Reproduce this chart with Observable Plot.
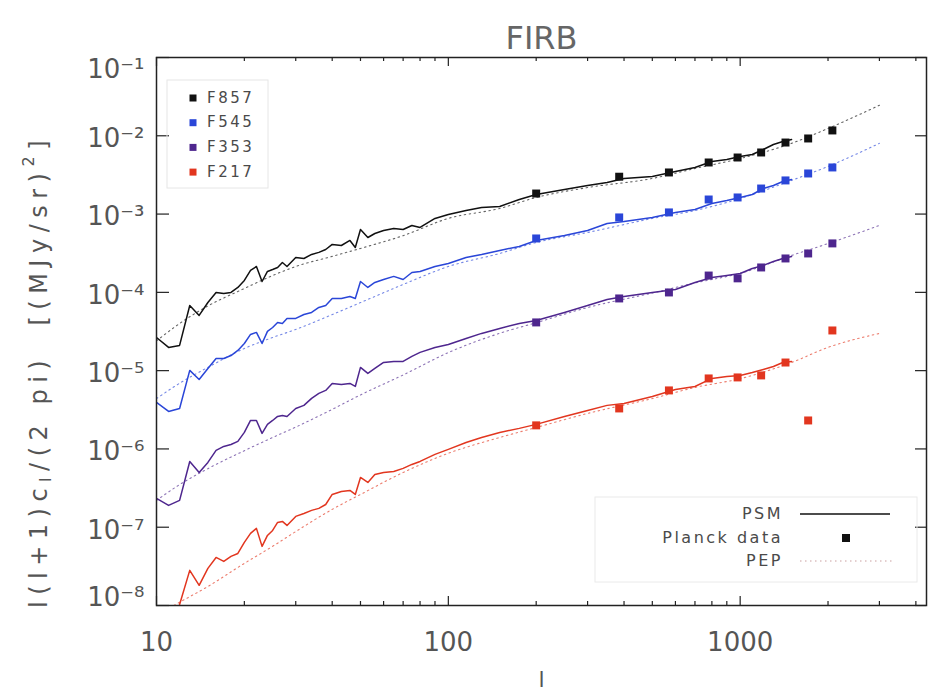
<!DOCTYPE html>
<html><head><meta charset="utf-8">
<script src="https://cdn.jsdelivr.net/npm/d3@7"></script>
<script src="https://cdn.jsdelivr.net/npm/@observablehq/plot@0.6"></script>
<style>
html,body{margin:0;padding:0;background:#fff;}
#chart svg{display:block;}
</style></head><body><div id="chart"></div>
<script>
// ---------- data ----------
const title = "FIRB";
const xLabel = "l";
const yLabelParts = [["l(l+1)c", ""], ["l", "sub"], ["/(2 pi)  [(MJy/sr)", ""], ["2", "sup"], ["]", ""]];
const seriesNames = ["F857", "F545", "F353", "F217"];
const seriesColors = ["#111111", "#2a46d8", "#4e268e", "#e2361f"];
const legend2Labels = ["PSM", "Planck data", "PEP"];

const yTicks = [1e-1, 1e-2, 1e-3, 1e-4, 1e-5, 1e-6, 1e-7, 1e-8];
const xMajor = [10, 100, 1000];
const xMinor = [20, 30, 40, 50, 60, 70, 80, 90, 200, 300, 400, 500, 600, 700, 800, 900, 2000, 3000, 4000];

// PSM simulated spectra
const psmL = [10,11,12,13,14,15,16,17,18,19,20,21,22,23,24,25,26,27,28,30,32,34,36,38,40,43,46,48,50,53,56,60,65,70,75,80,90,100,115,130,150,175,200,250,300,350,400,500,600,700,800,900,1000,1100,1200,1300,1400,1500];
const psmF857 = [2.65e-5,1.98e-5,2.10e-5,6.8e-5,5.07e-5,7.43e-5,9.97e-5,9.68e-5,9.97e-5,1.155e-4,1.42e-4,1.905e-4,2.14e-4,1.377e-4,1.85e-4,1.96e-4,2.08e-4,2.41e-4,2.14e-4,2.79e-4,2.71e-4,3.05e-4,3.24e-4,3.53e-4,4.09e-4,3.97e-4,4.60e-4,3.74e-4,6.36e-4,5.02e-4,5.65e-4,6.18e-4,6.55e-4,6.36e-4,7.15e-4,6.75e-4,8.79e-4,9.89e-4,1.11e-3,1.215e-3,1.25e-3,1.535e-3,1.78e-3,2.06e-3,2.32e-3,2.53e-3,2.85e-3,3.02e-3,3.50e-3,3.94e-3,4.70e-3,4.98e-3,5.44e-3,5.77e-3,6.68e-3,7.74e-3,8.45e-3,8.97e-3];
const psmF545 = [3.93e-6,3.01e-6,3.29e-6,1.007e-5,7.72e-6,1.067e-5,1.43e-5,1.43e-5,1.56e-5,1.81e-5,2.22e-5,2.90e-5,3.08e-5,2.22e-5,3.17e-5,3.56e-5,4.13e-5,4.01e-5,4.65e-5,4.65e-5,5.22e-5,5.54e-5,6.41e-5,6.80e-5,8.36e-5,8.36e-5,8.87e-5,8.36e-5,1.377e-4,1.155e-4,1.337e-4,1.46e-4,1.60e-4,1.46e-4,1.795e-4,1.85e-4,2.14e-4,2.34e-4,2.79e-4,3.05e-4,3.43e-4,3.86e-4,4.60e-4,5.33e-4,6.18e-4,7.59e-4,8.04e-4,9.06e-4,1.05e-3,1.145e-3,1.365e-3,1.49e-3,1.63e-3,1.78e-3,2.12e-3,2.32e-3,2.61e-3,2.77e-3];
const psmF353 = [2.33e-7,1.90e-7,2.20e-7,6.92e-7,5.01e-7,6.73e-7,9.57e-7,1.077e-6,1.14e-6,1.247e-6,1.625e-6,2.31e-6,2.31e-6,1.58e-6,2.06e-6,2.31e-6,2.60e-6,2.68e-6,2.60e-6,3.29e-6,3.60e-6,4.42e-6,5.12e-6,5.59e-6,6.87e-6,6.67e-6,6.87e-6,6.28e-6,1.10e-5,9.21e-6,1.067e-5,1.273e-5,1.31e-5,1.31e-5,1.52e-5,1.71e-5,1.98e-5,2.16e-5,2.58e-5,2.99e-5,3.46e-5,4.01e-5,4.38e-5,5.54e-5,6.80e-5,8.11e-5,8.87e-5,9.97e-5,1.09e-4,1.337e-4,1.55e-4,1.64e-4,1.74e-4,2.02e-4,2.21e-4,2.48e-4,2.71e-4,2.87e-4];
const psmF217 = [5.6e-9,4.5e-9,1.03e-8,2.81e-8,1.81e-8,2.98e-8,4.11e-8,3.66e-8,4.24e-8,4.62e-8,6.39e-8,8.34e-8,9.66e-8,5.69e-8,7.85e-8,9.10e-8,1.15e-7,1.186e-7,1.054e-7,1.374e-7,1.50e-7,1.64e-7,1.74e-7,1.95e-7,2.62e-7,2.86e-7,2.95e-7,2.62e-7,4.32e-7,3.73e-7,4.72e-7,5.01e-7,5.16e-7,5.64e-7,6.34e-7,6.92e-7,8.51e-7,9.86e-7,1.21e-6,1.40e-6,1.625e-6,1.83e-6,2.06e-6,2.60e-6,3.10e-6,3.60e-6,3.81e-6,4.68e-6,5.75e-6,6.28e-6,7.95e-6,8.43e-6,8.69e-6,9.48e-6,1.035e-5,1.13e-5,1.27e-5,1.31e-5];

// PEP model
const pepL = [10,12,15,20,25,30,40,50,70,100,150,200,300,500,700,1000,1500,2000,3000];
const pepF857 = [2.4e-5,4.0e-5,6.7e-5,1.12e-4,1.64e-4,2.14e-4,2.88e-4,3.64e-4,5.3e-4,8.8e-4,1.18e-3,1.63e-3,2.18e-3,2.85e-3,3.82e-3,5.13e-3,8.0e-3,1.24e-2,2.45e-2];
const pepF545 = [4.4e-6,6.9e-6,1.1e-5,1.92e-5,2.65e-5,3.36e-5,5.2e-5,7.4e-5,1.26e-4,2.14e-4,3.14e-4,4.34e-4,5.82e-4,8.79e-4,1.11e-3,1.58e-3,2.69e-3,4.06e-3,8.0e-3];
const pepF353 = [2.2e-7,3.5e-7,5.6e-7,9.5e-7,1.4e-6,1.9e-6,3.2e-6,4.9e-6,8.8e-6,1.7e-5,3.0e-5,4.1e-5,6.4e-5,9.8e-5,1.32e-4,1.75e-4,2.96e-4,4.2e-4,7.15e-4];
const pepF217 = [7.5e-9,1.1e-8,1.75e-8,3.45e-8,5.7e-8,8.8e-8,1.69e-7,2.62e-7,5.0e-7,8.8e-7,1.4e-6,1.88e-6,2.84e-6,4.4e-6,6.1e-6,7.9e-6,1.27e-5,1.98e-5,2.99e-5];

// Planck data points
const planckL = [200,385,570,780,980,1180,1430,1710,2070];
const planckF857 = [1.83e-3,3.0e-3,3.40e-3,4.56e-3,5.28e-3,6.12e-3,8.20e-3,9.24e-3,1.17e-2];
const planckF545 = [4.88e-4,9.06e-4,1.05e-3,1.535e-3,1.63e-3,2.12e-3,2.69e-3,3.30e-3,3.94e-3];
const planckF353 = [4.13e-5,8.36e-5,9.97e-5,1.64e-4,1.51e-4,2.08e-4,2.71e-4,3.14e-4,4.22e-4];
const planckF217 = [2.0e-6,3.29e-6,5.59e-6,7.95e-6,8.19e-6,8.69e-6,1.27e-5,2.31e-6,3.26e-5];

// ---------- tidy rows ----------
const tidy = (ls, vals) => seriesNames.flatMap((s, i) => ls.map((l, j) => ({l, v: vals[i][j], s})));
const psmRows = tidy(psmL, [psmF857, psmF545, psmF353, psmF217]);
const pepRows = tidy(pepL, [pepF857, pepF545, pepF353, pepF217]);
const planckRows = tidy(planckL, [planckF857, planckF545, planckF353, planckF217]);

// ---------- layout ----------
const W = 929, H = 691;
const mT = 57, mL = 156, mR = 3, mB = 86;
const FW = W - mL - mR, FH = H - mT - mB;
const supMap = {"-":"\u207B","0":"\u2070","1":"\u00B9","2":"\u00B2","3":"\u00B3","4":"\u2074","5":"\u2075","6":"\u2076","7":"\u2077","8":"\u2078","9":"\u2079"};
const yFmt = d => "10" + String(Math.round(Math.log10(d))).replace(/[-0-9]/g, c => supMap[c]);
const ink = "#222";
const txt = "#4a4a4a";
const yAxisOpts = {tickSize: 0, tickPadding: 12, tickFormat: yFmt, fontSize: 26, label: null, fill: "#555"};

const chart = Plot.plot({
  width: W, height: H,
  marginTop: mT, marginLeft: mL, marginRight: mR, marginBottom: mB,
  style: {fontFamily: "'DejaVu Sans', sans-serif", color: txt, background: "#fff", overflow: "visible"},
  x: {type: "log", domain: [10, 4350]},
  y: {type: "log", domain: [1e-8, 1e-1]},
  color: {domain: seriesNames, range: seriesColors},
  marks: [
    Plot.line(pepRows, {x: "l", y: "v", z: "s", stroke: "s", strokeWidth: 1.1, strokeDasharray: "1.5,3.5", strokeOpacity: 0.65, curve: "monotone-x", clip: true}),
    Plot.line(psmRows, {x: "l", y: "v", z: "s", stroke: "s", strokeWidth: 1.5, clip: true}),
    Plot.dot(planckRows, {x: "l", y: "v", fill: "s", symbol: "square", r: 4.5, clip: true}),
    Plot.frame({stroke: ink, strokeWidth: 1.5}),
    Plot.tickY(yTicks, {y: d => d, insetRight: FW - 13, stroke: ink, strokeWidth: 1.2}),
    Plot.tickY(yTicks, {y: d => d, insetLeft: FW - 11, stroke: ink, strokeWidth: 1.2}),
    Plot.tickX(xMajor, {x: d => d, insetTop: FH - 9, stroke: ink, strokeWidth: 1.2}),
    Plot.tickX(xMajor, {x: d => d, insetBottom: FH - 9, stroke: ink, strokeWidth: 1.2}),
    Plot.tickX(xMinor, {x: d => d, insetTop: FH - 4, stroke: ink, strokeWidth: 1.2}),
    Plot.tickX(xMinor, {x: d => d, insetBottom: FH - 4, stroke: ink, strokeWidth: 1.2}),
    Plot.axisY(yTicks.slice(1, -1), {...yAxisOpts, dy: 3}),
    Plot.axisY([yTicks[0]], {...yAxisOpts, dy: 12}),
    Plot.axisY([yTicks[yTicks.length - 1]], {...yAxisOpts, dy: -8}),
    Plot.axisX(xMajor, {tickSize: 0, tickPadding: 27, tickFormat: d => String(d), fontSize: 26, label: null, fill: "#555"}),
    Plot.text([title], {text: d => d, frameAnchor: "top", dy: -31, fontSize: 32, fill: "#666", ariaLabel: "title-text"}),
    Plot.text([xLabel], {text: d => d, frameAnchor: "bottom", lineAnchor: "middle", dy: 74, fontSize: 22, fill: "#555"})
  ]
});
document.getElementById("chart").appendChild(chart);

const svg = d3.select(chart);
svg.selectAll('g[aria-label="title-text"] text').style("letter-spacing", "3px");

// y-axis label with subscript / superscript
const yl = svg.append("text")
  .attr("transform", "translate(40,371) rotate(-90)")
  .attr("text-anchor", "middle")
  .attr("dominant-baseline", "middle")
  .attr("fill", "#555")
  .attr("font-size", 24)
  .style("letter-spacing", "6.5px");
yLabelParts.forEach(([t, kind], i) => {
  const prev = i > 0 ? yLabelParts[i - 1][1] : "";
  const ts = yl.append("tspan").text(t);
  if (kind === "sub") ts.attr("font-size", 16).attr("dy", 6);
  else if (kind === "sup") ts.attr("font-size", 16).attr("dy", -11);
  else if (prev === "sub") ts.attr("dy", -6);
  else if (prev === "sup") ts.attr("dy", 11);
});

// legend 1 (series)
const lg1 = svg.append("g").attr("text-anchor", "start");
lg1.append("rect").attr("x", 167).attr("y", 80).attr("width", 101).attr("height", 108)
  .attr("fill", "none").attr("stroke", "#e6e6e6").attr("stroke-width", 1);
seriesNames.forEach((s, i) => {
  const cy = 98 + i * 24.7;
  lg1.append("rect").attr("x", 189.5).attr("y", cy - 3.5).attr("width", 7).attr("height", 7).attr("fill", seriesColors[i]);
  lg1.append("text").attr("x", 207).attr("y", cy).attr("dominant-baseline", "middle").attr("text-anchor", "start")
    .attr("font-size", 15).attr("fill", txt).style("letter-spacing", "2.5px").text(s);
});

// legend 2 (kinds)
const lg2 = svg.append("g");
lg2.append("rect").attr("x", 595).attr("y", 497).attr("width", 322).attr("height", 85)
  .attr("fill", "none").attr("stroke", "#eaeaea").attr("stroke-width", 1);
const ly = [514, 538, 561];
legend2Labels.forEach((t, i) => {
  lg2.append("text").attr("x", 783).attr("y", ly[i]).attr("text-anchor", "end").attr("dominant-baseline", "middle")
    .attr("font-size", 16).attr("fill", txt).style("letter-spacing", "2.5px").text(t);
});
lg2.append("line").attr("x1", 800).attr("x2", 890).attr("y1", ly[0]).attr("y2", ly[0]).attr("stroke", "#111").attr("stroke-width", 1.5);
lg2.append("rect").attr("x", 842).attr("y", ly[1] - 4).attr("width", 8).attr("height", 8).attr("fill", "#111");
lg2.append("line").attr("x1", 800).attr("x2", 893).attr("y1", ly[2]).attr("y2", ly[2]).attr("stroke", "#c9a0a0").attr("stroke-width", 1.1).attr("stroke-dasharray", "1.5,3.5");
</script>
</body></html>
